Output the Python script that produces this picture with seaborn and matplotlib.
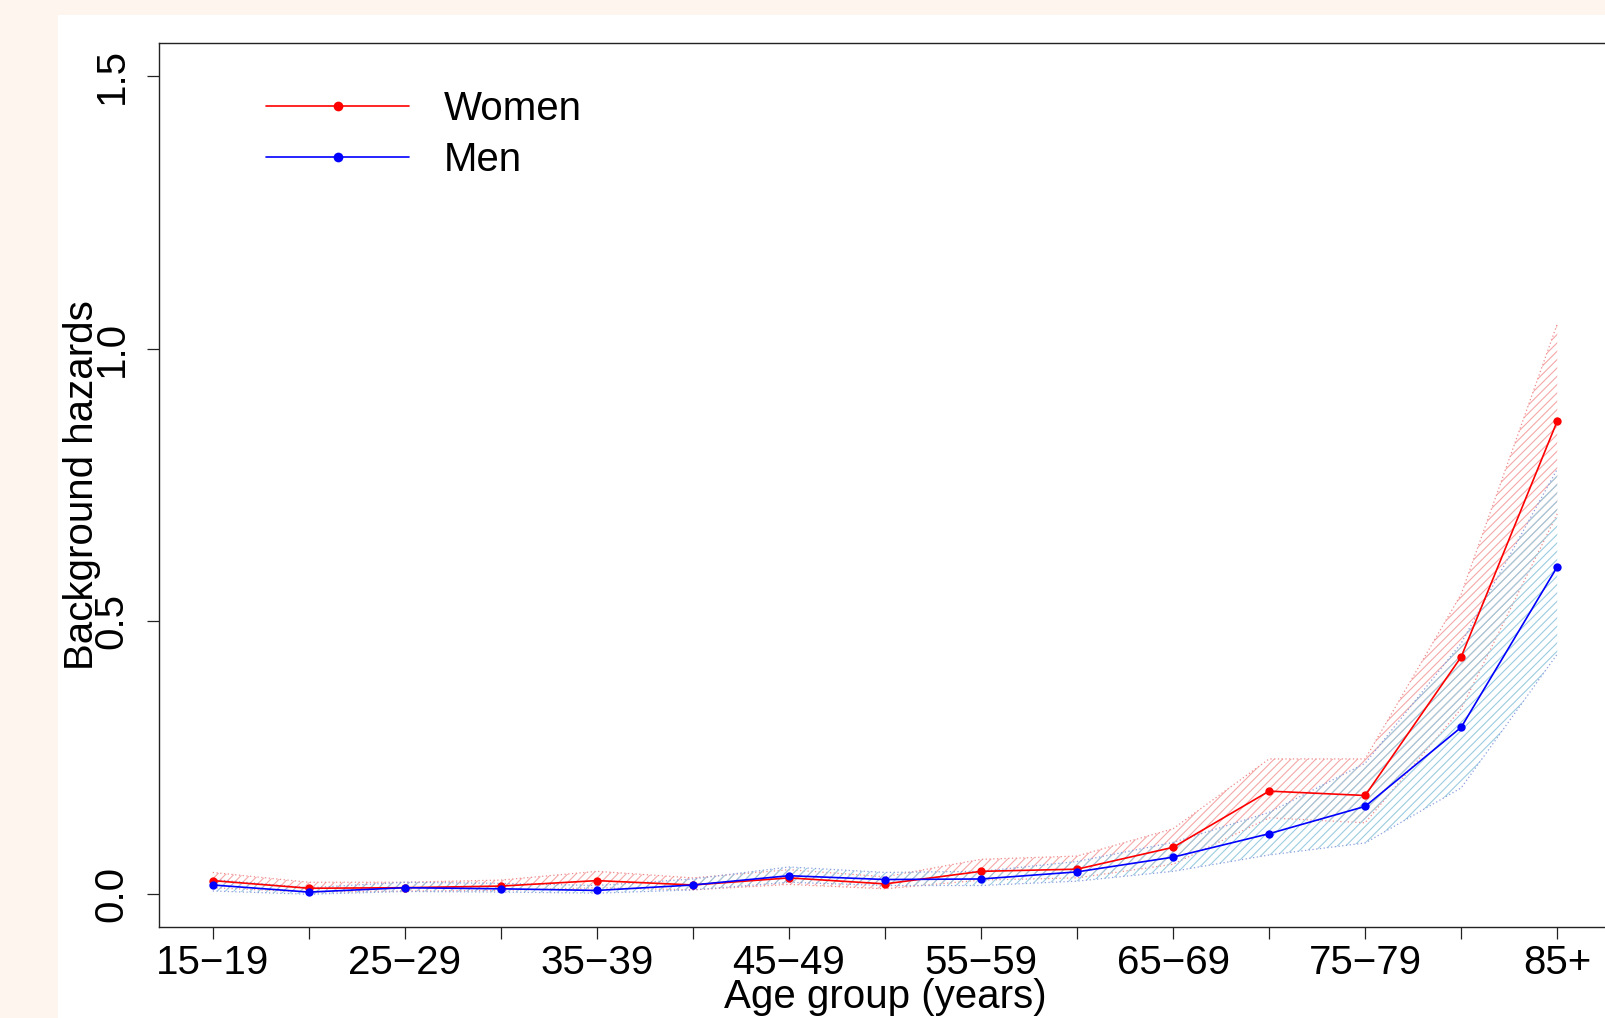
import matplotlib
matplotlib.use("Agg")
import matplotlib.pyplot as plt
import seaborn as sns
import pandas as pd
from matplotlib.lines import Line2D
from matplotlib.patches import Rectangle

age_groups = ["15\u221219", "20\u221224", "25\u221229", "30\u221234", "35\u221239",
              "40\u221244", "45\u221249", "50\u221254", "55\u221259", "60\u221264",
              "65\u221269", "70\u221274", "75\u221279", "80\u221284", "85+"]

women = [0.025, 0.011, 0.012, 0.015, 0.025, 0.017, 0.030, 0.019, 0.042, 0.046,
         0.086, 0.189, 0.181, 0.435, 0.867]
women_lo = [0.012, 0.004, 0.006, 0.007, 0.012, 0.008, 0.018, 0.010, 0.026, 0.030,
            0.055, 0.140, 0.131, 0.340, 0.697]
women_hi = [0.040, 0.022, 0.022, 0.026, 0.042, 0.030, 0.045, 0.032, 0.064, 0.070,
            0.120, 0.248, 0.248, 0.550, 1.045]

men = [0.017, 0.004, 0.012, 0.010, 0.007, 0.017, 0.034, 0.027, 0.028, 0.041,
       0.068, 0.111, 0.161, 0.306, 0.600]
men_lo = [0.006, 0.000, 0.005, 0.004, 0.002, 0.008, 0.022, 0.016, 0.016, 0.024,
          0.042, 0.072, 0.094, 0.195, 0.440]
men_hi = [0.027, 0.012, 0.022, 0.020, 0.016, 0.028, 0.050, 0.040, 0.042, 0.060,
          0.095, 0.150, 0.240, 0.460, 0.779]

pos = list(range(len(age_groups)))
df = pd.DataFrame({
    "pos": pos * 2,
    "hazard": women + men,
    "sex": ["Women"] * len(pos) + ["Men"] * len(pos),
})

sns.set_style("ticks")
plt.rcParams["font.family"] = ["Liberation Sans", "DejaVu Sans"]
plt.rcParams["text.color"] = "black"
plt.rcParams["axes.labelcolor"] = "black"
plt.rcParams["hatch.linewidth"] = 0.8

fig = plt.figure(figsize=(16.06, 10.18), dpi=100, facecolor="#fdf5ee")
fig.patches.append(Rectangle((58 / 1606, 0), 1, 1 - 15 / 1018, transform=fig.transFigure,
                             facecolor="white", edgecolor="none", zorder=-5))
ax = fig.add_axes([159 / 1606, 91 / 1018, 1452 / 1606, 884 / 1018])
ax.set_zorder(2)
ax.set_facecolor("white")

# hatched confidence bands
ax.fill_between(pos, women_lo, women_hi, facecolor="none", edgecolor="#f5a8a8",
                hatch="////", linewidth=0, zorder=1)
ax.plot(pos, women_lo, color="#f08c8c", lw=0.9, ls=(0, (1, 2)), zorder=1)
ax.plot(pos, women_hi, color="#f08c8c", lw=0.9, ls=(0, (1, 2)), zorder=1)
ax.fill_between(pos, men_lo, men_hi, facecolor="none", edgecolor="#9ccde0",
                hatch="////", linewidth=0, zorder=1.1)
ax.plot(pos, men_lo, color="#8c9ee0", lw=0.9, ls=(0, (1, 2)), zorder=1.1)
ax.plot(pos, men_hi, color="#8c9ee0", lw=0.9, ls=(0, (1, 2)), zorder=1.1)

palette = {"Women": "#ff0000", "Men": "#0000ff"}
sns.lineplot(data=df, x="pos", y="hazard", hue="sex", palette=palette, marker="o",
             markersize=6, markeredgewidth=0, linewidth=1.2, errorbar=None,
             legend=False, ax=ax, zorder=3)

ax.set_xlim(-0.56, 14.56)
ax.set_ylim(-0.06, 1.56)
ax.set_xticks(pos)
ax.set_xticklabels([lab if i % 2 == 0 else "" for i, lab in enumerate(age_groups)])
ax.set_yticks([0.0, 0.5, 1.0, 1.5])
ax.set_yticklabels(["0.0", "0.5", "1.0", "1.5"], rotation=90, va="center")

for side in ["left", "right", "top", "bottom"]:
    ax.spines[side].set_visible(True)
    ax.spines[side].set_color("#222222")
    ax.spines[side].set_linewidth(1.0)
ax.tick_params(axis="both", direction="out", length=8.5, width=0.9, color="#222222",
               labelsize=29, labelcolor="black")
ax.tick_params(axis="x", pad=4)
ax.tick_params(axis="y", pad=12)

ax.set_xlabel("Age group (years)", fontsize=29)
ax.set_ylabel("Background hazards", fontsize=29)
ax.xaxis.set_label_coords(0.5, -0.058)
ax.yaxis.set_label_coords(-0.040, 0.5)

handles = [Line2D([], [], color="#ff0000", lw=1.2, marker="o", markersize=7, markeredgewidth=0),
           Line2D([], [], color="#0000ff", lw=1.2, marker="o", markersize=7, markeredgewidth=0)]
ax.legend(handles, ["Women", "Men"], loc="upper left", bbox_to_anchor=(0.074, 0.947),
          frameon=False, fontsize=29, handlelength=3.55, handletextpad=0.85,
          labelspacing=0.33, borderpad=0, borderaxespad=0)

fig.savefig("out.png", dpi=100, facecolor=fig.get_facecolor())
